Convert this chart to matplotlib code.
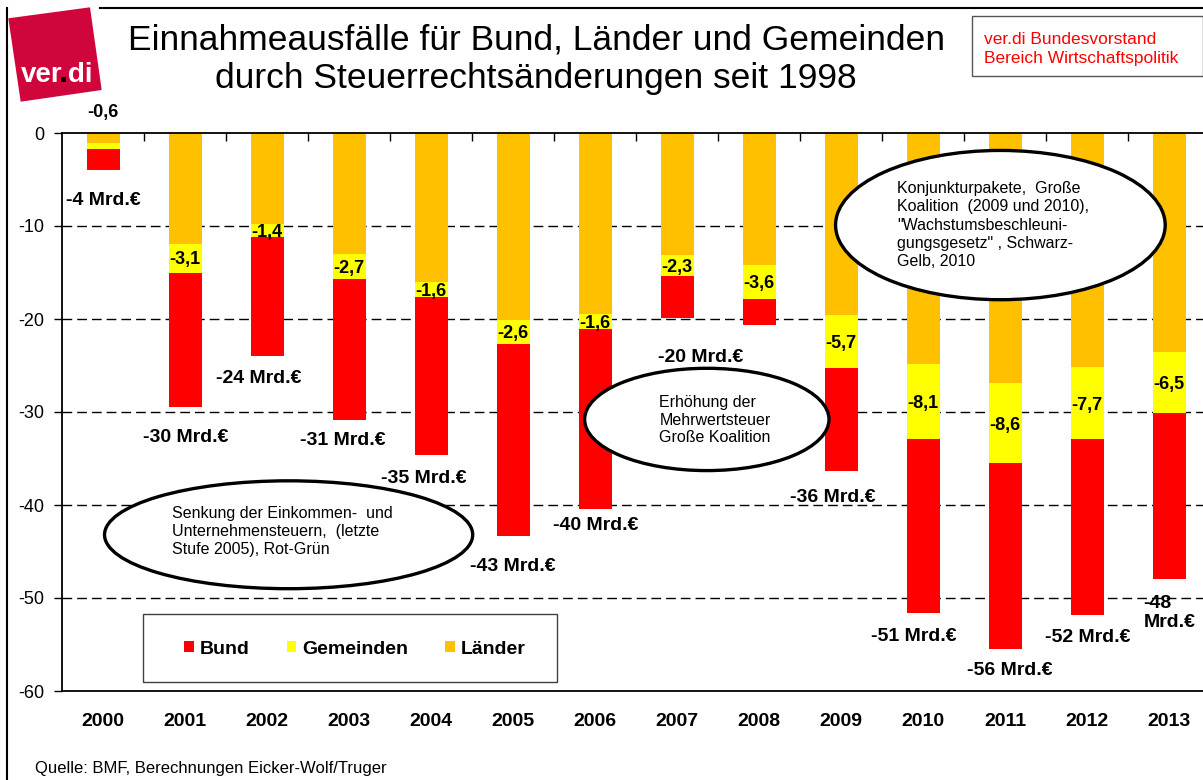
import numpy as np
import matplotlib.pyplot as plt
from matplotlib.patches import Ellipse, Rectangle, Polygon
from matplotlib.lines import Line2D

plt.rcParams['font.family'] = ['Liberation Sans', 'DejaVu Sans']

# data (Mrd. Euro, losses shown as negative values)
years = ['2000', '2001', '2002', '2003', '2004', '2005', '2006',
         '2007', '2008', '2009', '2010', '2011', '2012', '2013']
laender = [1.1, 11.9, 9.8, 13.0, 16.0, 20.1, 19.5, 13.1, 14.2, 19.6, 24.8, 26.9, 25.2, 23.6]
gemeinden = [0.6, 3.1, 1.4, 2.7, 1.6, 2.6, 1.6, 2.3, 3.6, 5.7, 8.1, 8.6, 7.7, 6.5]
bund = [2.3, 14.5, 12.8, 15.2, 17.0, 20.6, 19.3, 4.5, 2.8, 11.0, 18.7, 20.0, 18.9, 17.9]
total_labels = ['-4 Mrd.€', '-30 Mrd.€', '-24 Mrd.€', '-31 Mrd.€', '-35 Mrd.€',
                '-43 Mrd.€', '-40 Mrd.€', '-20 Mrd.€', '', '-36 Mrd.€',
                '-51 Mrd.€', '-56 Mrd.€', '-52 Mrd.€', '-48\nMrd.€']

# placement of the total labels (shift in categories, gap below bar)
label_dx = [0, 0, -0.1, -0.08, -0.09, 0, 0, 0.29, 0, -0.1, -0.11, 0.06, 0, 0]
label_gap = [3.3, 3.2, 2.4, 2.2, 2.6, 3.3, 1.8, 4.2, 0, 2.9, 2.5, 2.3, 2.4, 3.6]

W, H = 1203, 780
fig = plt.figure(figsize=(W / 100, H / 100), dpi=100)


def fx(px):
    return px / W


def fy(py):
    return 1 - py / H


ax = fig.add_axes([fx(62.3), fy(691), 1148 / W, 558 / H])

x = np.arange(len(years))
L = np.array(laender)
G = np.array(gemeinden)
B = np.array(bund)
width = 0.406

b_land = ax.bar(x, -L, width, color='#FFC000', zorder=2)
b_gem = ax.bar(x, -G, width, bottom=-L, color='#FFFF00', zorder=2)
b_bund = ax.bar(x, -B, width, bottom=-(L + G), color='#FF0000', zorder=2)

ax.set_xlim(-0.5, 13.5)
ax.set_ylim(-60, 0)

# dashed grid lines
for v in range(-50, -9, 10):
    ax.axhline(v, color='black', lw=1, ls=(0, (7, 3.6)), zorder=1)

for s in ['top', 'bottom', 'left']:
    ax.spines[s].set_color('black')
    ax.spines[s].set_linewidth(1.3)
ax.spines['right'].set_visible(False)

ax.set_yticks(range(-60, 1, 10))
ax.set_yticklabels([str(v) for v in range(-60, 1, 10)])
ax.tick_params(axis='y', direction='out', length=6, width=1, pad=7, labelsize=13)

ax.set_xticks(x)
ax.set_xticklabels(years, fontweight='bold', fontsize=14)
ax.tick_params(axis='x', which='major', length=0, pad=16)
ax.set_xticks(np.arange(0.5, 13.5, 1), minor=True)
ax.tick_params(axis='x', which='minor', top=True, bottom=False,
               direction='in', length=6, width=1)

# Gemeinden labels
for i in range(len(years)):
    txt = ('-%.1f' % G[i]).replace('.', ',')
    if i == 0:
        ax.text(x[i], 2.2, txt, ha='center', va='center', fontsize=13,
                fontweight='bold', clip_on=False)
    else:
        ax.text(x[i], -(L[i] + G[i] / 2) - 0.2, txt, ha='center', va='center',
                fontsize=13, fontweight='bold', zorder=3)

# total labels
for i in range(len(years)):
    if not total_labels[i]:
        continue
    tot = L[i] + G[i] + B[i]
    ax.text(x[i] + label_dx[i], -tot - label_gap[i], total_labels[i],
            ha='center', va='center', multialignment='left',
            fontsize=14, fontweight='bold', linespacing=1.1, zorder=3)

# comment ellipses
ell_style = dict(facecolor='white', edgecolor='black', lw=2.4, zorder=5)
ax.add_patch(Ellipse((2.26, -43.2), 4.49, 11.6, **ell_style))
ax.text(0.84, -42.9, 'Senkung der Einkommen-  und\nUnternehmensteuern,  (letzte\nStufe 2005), Rot-Grün',
        ha='left', va='center', fontsize=11.5, linespacing=1.25, zorder=6)

ax.add_patch(Ellipse((7.36, -30.8), 2.98, 11.0, **ell_style))
ax.text(6.78, -30.9, 'Erhöhung der\nMehrwertsteuer\nGroße Koalition',
        ha='left', va='center', fontsize=11.5, linespacing=1.2, zorder=6)

ax.add_patch(Ellipse((10.94, -9.9), 4.02, 16.05, **ell_style))
ax.text(9.68, -9.9, 'Konjunkturpakete,  Große\nKoalition  (2009 und 2010),\n"Wachstumsbeschleuni-\ngungsgesetz" , Schwarz-\nGelb, 2010',
        ha='left', va='center', fontsize=11.5, linespacing=1.28, zorder=6)

# legend in a framed box
fig.add_artist(Rectangle((fx(143), fy(682)), (557 - 143) / W, (682 - 614) / H,
                         transform=fig.transFigure, fill=False,
                         edgecolor='#404040', lw=1))
ax.legend([b_bund, b_gem, b_land], ['Bund', 'Gemeinden', 'Länder'],
          loc='center', bbox_to_anchor=(fx(355), fy(649)),
          bbox_transform=fig.transFigure, ncol=3, frameon=False,
          prop={'weight': 'bold', 'size': 14}, handlelength=0.5,
          handleheight=0.5, handletextpad=0.3, columnspacing=1.9)

# title
fig.text(fx(536), fy(49), 'Einnahmeausfälle für Bund, Länder und Gemeinden',
         ha='center', va='baseline', fontsize=25.5)
fig.text(fx(536), fy(88), 'durch Steuerrechtsänderungen seit 1998',
         ha='center', va='baseline', fontsize=25.5)

# frame lines
fig.add_artist(Line2D([fx(7), fx(7)], [fy(8), fy(780)], color='black', lw=1.5))
fig.add_artist(Line2D([fx(100), fx(1203)], [fy(8), fy(8)], color='black', lw=1.5))

# logo
fig.add_artist(Polygon([(fx(8.3), fy(18.3)), (fx(90), fy(7.3)),
                        (fx(101.7), fy(90)), (fx(20.7), fy(101.7))],
                       closed=True, transform=fig.transFigure,
                       facecolor='#D0053C', edgecolor='none'))
fig.text(fx(21), fy(82), 'ver.di', color='white', fontweight='bold',
         fontsize=20, ha='left', va='baseline')
fig.add_artist(Rectangle((fx(61), fy(82)), 5 / W, 5 / H, transform=fig.transFigure,
                         facecolor='black', edgecolor='none', zorder=10))

# publisher box
fig.add_artist(Rectangle((fx(972), fy(76)), 231 / W, 60 / H,
                         transform=fig.transFigure, facecolor='white',
                         edgecolor='#555555', lw=1))
fig.text(fx(984), fy(39), 'ver.di Bundesvorstand', color='#FF0000',
         fontsize=12.5, ha='left', va='center')
fig.text(fx(984), fy(59), 'Bereich Wirtschaftspolitik', color='#FF0000',
         fontsize=12.5, ha='left', va='center')

fig.text(fx(35), fy(768), 'Quelle: BMF, Berechnungen Eicker-Wolf/Truger',
         fontsize=12, ha='left', va='center')

fig.savefig('out.png', dpi=100)
